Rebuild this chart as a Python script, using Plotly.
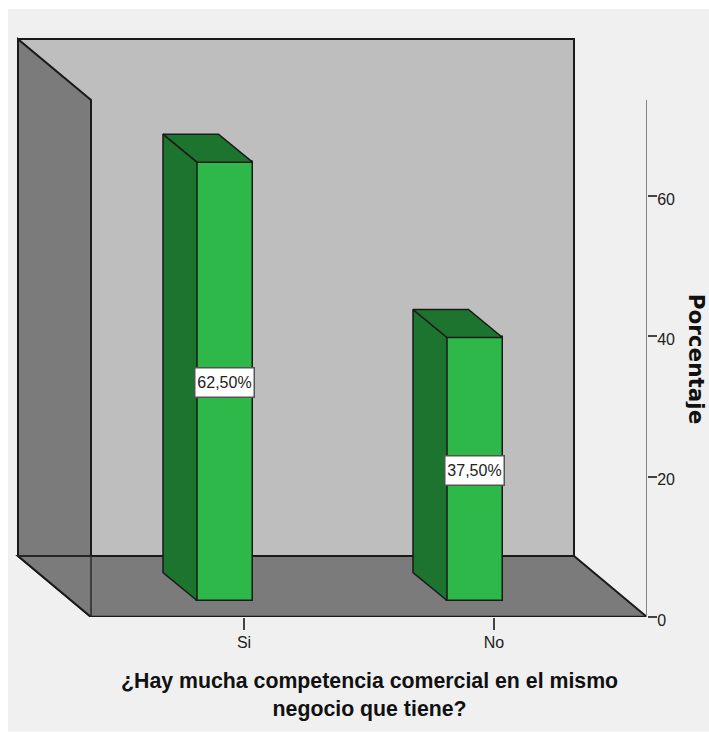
import plotly.graph_objects as go

# Survey result and axis labels
categories = ["Si", "No"]
percentages = [62.5, 37.5]
value_labels = ["62,50%", "37,50%"]
y_ticks = [0, 20, 40, 60]
x_title = "¿Hay mucha competencia comercial en el mismo<br>negocio que tiene?"
y_title = "Porcentaje"

# Pixel layout of the plotting box
PLOT_LEFT, PLOT_RIGHT, PLOT_TOP, PLOT_BOTTOM = 10, 647, 30, 617.5
WIDTH, HEIGHT = 709, 732
PX_PER_CAT = 250.0
PX_PER_PCT = 7.02
CAT0_PX = 244.0

x_lo = (PLOT_LEFT - CAT0_PX) / PX_PER_CAT
x_hi = (PLOT_RIGHT - CAT0_PX) / PX_PER_CAT
y_hi = (PLOT_BOTTOM - PLOT_TOP) / PX_PER_PCT

# Oblique projection of the chart box (category units, percent units)
box_front_left = (91 - CAT0_PX) / PX_PER_CAT
box_front_right = x_hi
box_dx = 73 / PX_PER_CAT
box_dy = 61 / PX_PER_PCT
box_top = 73.7

# Bar prism proportions
bar_offset = -47 / PX_PER_CAT
bar_width = 55.5 / PX_PER_CAT
bar_dx = 34 / PX_PER_CAT
bar_dy = 28 / PX_PER_PCT
bar_base = 16.5 / PX_PER_PCT

PANEL = "#F0F0F0"
WALL = "#BEBEBE"
FLOOR = "#7B7B7B"
GREEN = "#2EB84A"
GREEN_DARK = "#1D742E"
EDGE = "#1A1A1A"
TICK = "#444444"
TEXT = "#222222"
TICK_FONT = dict(family="Liberation Sans, Arial", size=16, color=TEXT)


def polygon(points, fill):
    path = "M " + " L ".join(f"{x},{y}" for x, y in points) + " Z"
    return dict(type="path", path=path, xref="x", yref="y", layer="below",
                fillcolor=fill, line=dict(color=EDGE, width=2))


def edge(x0, y0, x1, y1):
    return dict(type="line", xref="x", yref="y", layer="below", x0=x0, y0=y0, x1=x1, y1=y1,
                line=dict(color="#2A2A2A", width=1.5))


bl, br = box_front_left, box_front_right
shapes = [
    # grey panel behind the whole chart
    dict(type="rect", xref="paper", yref="paper", layer="below", line=dict(width=0),
         fillcolor=PANEL,
         x0=(8 - PLOT_LEFT) / (PLOT_RIGHT - PLOT_LEFT),
         x1=(WIDTH - PLOT_LEFT) / (PLOT_RIGHT - PLOT_LEFT),
         y0=(PLOT_BOTTOM - HEIGHT) / (PLOT_BOTTOM - PLOT_TOP),
         y1=(PLOT_BOTTOM - 9) / (PLOT_BOTTOM - PLOT_TOP)),
    # back wall
    polygon([(bl - box_dx, box_dy), (br - box_dx, box_dy),
             (br - box_dx, box_top + box_dy), (bl - box_dx, box_top + box_dy)], WALL),
    # left wall
    polygon([(bl - box_dx, box_dy), (bl, 0), (bl, box_top), (bl - box_dx, box_top + box_dy)], FLOOR),
    # floor
    polygon([(bl - box_dx, box_dy), (br - box_dx, box_dy), (br, 0), (bl, 0)], FLOOR),
    # wall edges that stay visible across the floor corner
    edge(bl - box_dx, box_dy, bl, box_dy),
    edge(bl, box_dy, bl, 0),
]

fig = go.Figure()

# Front faces of the bars
fig.add_trace(go.Bar(
    x=list(range(len(categories))), y=percentages, base=bar_base,
    width=bar_width, offset=bar_offset,
    marker=dict(color=GREEN, line=dict(color=EDGE, width=1.5)),
    hoverinfo="skip", showlegend=False,
))

# Side and top faces of each prism
for i, value in enumerate(percentages):
    xl = i + bar_offset
    xr = xl + bar_width
    top = bar_base + value
    fig.add_trace(go.Scatter(
        x=[xl, xl - bar_dx, xl - bar_dx, xl, xl],
        y=[bar_base, bar_base + bar_dy, top + bar_dy, top, bar_base],
        mode="lines", fill="toself", fillcolor=GREEN_DARK,
        line=dict(color=EDGE, width=1.5), hoverinfo="skip", showlegend=False,
    ))
    fig.add_trace(go.Scatter(
        x=[xl, xl - bar_dx, xr - bar_dx, xr, xl],
        y=[top, top + bar_dy, top + bar_dy, top, top],
        mode="lines", fill="toself", fillcolor=GREEN_DARK,
        line=dict(color=EDGE, width=1.5), hoverinfo="skip", showlegend=False,
    ))

# Front floor edge and the value axis line sit on the plot boundary
fig.add_trace(go.Scatter(x=[bl, br], y=[0, 0], mode="lines", cliponaxis=False,
                         line=dict(color=EDGE, width=2.5), hoverinfo="skip", showlegend=False))
fig.add_trace(go.Scatter(x=[br, br], y=[0, box_top], mode="lines", cliponaxis=False,
                         line=dict(color="#858585", width=2), hoverinfo="skip", showlegend=False))

annotations = [
    dict(x=i + bar_offset + bar_width / 2, y=bar_base + value / 2, xref="x", yref="y", yshift=-1,
         text=label, showarrow=False, bgcolor="white", bordercolor="#555555", borderwidth=1.5,
         width=56, height=26, font=dict(family=TICK_FONT["family"], size=16, color=TEXT))
    for i, (value, label) in enumerate(zip(percentages, value_labels))
]
annotations.append(dict(
    x=(bl + br) / 2, y=0, xref="x", yref="y", yshift=-78, text=f"<b>{x_title}</b>", showarrow=False,
    font=dict(family="Liberation Sans, Arial", size=21.3, color="#111111"), yanchor="middle",
))
annotations.append(dict(
    x=br, y=(PLOT_BOTTOM - 359) / PX_PER_PCT, xref="x", yref="y", xshift=50, text=f"<b>{y_title}</b>",
    showarrow=False, textangle=90, height=22,
    font=dict(family="DejaVu Sans, Arial", size=21.5, color="#111111"),
))

fig.update_layout(
    width=WIDTH, height=HEIGHT, autosize=False,
    margin=dict(l=PLOT_LEFT, r=WIDTH - PLOT_RIGHT, t=PLOT_TOP, b=HEIGHT - PLOT_BOTTOM, pad=0),
    paper_bgcolor="white", plot_bgcolor="rgba(0,0,0,0)",
    shapes=shapes, annotations=annotations, showlegend=False, bargap=0,
    xaxis=dict(range=[x_lo, x_hi], tickmode="array", tickvals=list(range(len(categories))),
               ticktext=categories, ticks="outside", ticklen=12, tickwidth=1.5, tickcolor=TICK,
               tickfont=TICK_FONT, ticklabelstandoff=-1,
               showgrid=False, zeroline=False, showline=False, fixedrange=True),
    yaxis=dict(range=[0, y_hi], side="right", tickmode="array", tickvals=y_ticks,
               ticks="outside", ticklen=9, tickwidth=2, tickcolor=TICK,
               tickfont=TICK_FONT, ticklabelstandoff=-3, ticklabelshift=3,
               showgrid=False, zeroline=False, showline=False, fixedrange=True),
)

fig.write_html("out.html", config=dict(displayModeBar=False))
